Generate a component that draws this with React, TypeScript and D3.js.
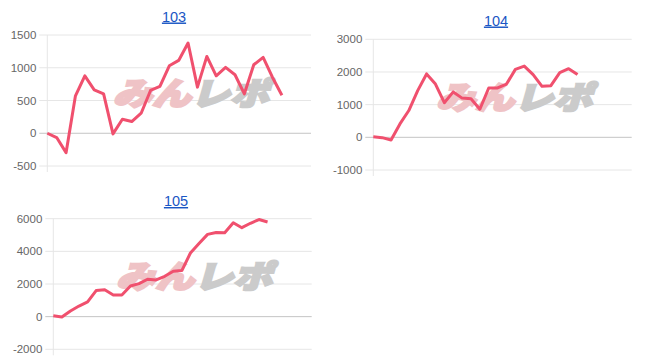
import * as d3 from 'd3'

// values, one point per game
const titles = ['103', '104', '105']
const values103 = [0, -66, -296, 571, 877, 663, 602, -10, 214, 179, 306, 653, 714, 1030, 1112, 1377, 704, 1173, 877, 1005, 893, 602, 1046, 1158, 852, 581]
const values104 = [20, -10, -80, 410, 820, 1430, 1940, 1630, 1060, 1390, 1200, 1180, 860, 1510, 1510, 1630, 2080, 2180, 1920, 1560, 1580, 1980, 2100, 1920]
const values105 = [60, -20, 350, 650, 900, 1600, 1650, 1330, 1330, 1880, 2020, 2290, 2250, 2470, 2780, 2820, 3900, 4480, 5040, 5160, 5140, 5750, 5450, 5720, 5950, 5800]
const ticks103 = [-500, 0, 500, 1000, 1500]
const ticks104 = [-1000, 0, 1000, 2000, 3000]
const ticks105 = [-2000, 0, 2000, 4000, 6000]

const lineColour = '#f0506e'
const labelFont = '"Liberation Sans", Arial, sans-serif'

interface PanelProps {
    title: string
    values: number[]
    ticks: number[]
    left: number
    right: number
    top: number
    bottom: number
    xMax: number
    titleX: number
    titleY: number
}

const Panel = (props: PanelProps) => {
    const { values, ticks, left, right, top, bottom } = props

    const x = d3.scaleLinear().domain([0, props.xMax]).range([left, right])
    const y = d3
        .scaleLinear()
        .domain([ticks[0], ticks[ticks.length - 1]])
        .range([bottom, top])

    const line = d3
        .line<number>()
        .x((d, i) => x(i))
        .y(d => y(d))

    // watermark sits at the same relative spot in every panel
    const wmX = left + (right - left) * 0.545
    const wmY = top + (bottom - top) * 0.44 + 12

    return (
        <g>
            <text
                x={props.titleX}
                y={props.titleY}
                textAnchor="middle"
                fontFamily={labelFont}
                fontSize={14.5}
                fill="#1a56c4"
                textDecoration="underline"
            >
                {props.title}
            </text>
            <line x1={left} x2={left} y1={top} y2={bottom + 6} stroke="#e6e6e6" />
            {ticks.map(t => (
                <g key={t}>
                    <line
                        x1={left - 8}
                        x2={right}
                        y1={y(t)}
                        y2={y(t)}
                        stroke={t === 0 ? '#c4c4c4' : '#e6e6e6'}
                    />
                    <text
                        x={left - 11}
                        y={y(t)}
                        dy="0.35em"
                        textAnchor="end"
                        fontFamily={labelFont}
                        fontSize={11.5}
                        fill="#666"
                    >
                        {t}
                    </text>
                </g>
            ))}
            <g transform={`translate(${wmX},${wmY}) skewX(-16) scale(1,0.95)`}>
                <text
                    x={0}
                    y={0}
                    textAnchor="middle"
                    fontFamily='"Noto Sans CJK JP", sans-serif'
                    fontWeight={900}
                    fontSize={33}
                    textLength={156}
                    lengthAdjust="spacingAndGlyphs"
                    strokeWidth={2.5}
                    strokeLinejoin="miter"
                >
                    <tspan fill="#efc3c6" stroke="#efc3c6">みん</tspan>
                    <tspan fill="#cbcbcb" stroke="#cbcbcb">レポ</tspan>
                </text>
            </g>
            <path
                d={line(values) ?? ''}
                fill="none"
                stroke={lineColour}
                strokeWidth={3}
                strokeLinejoin="round"
            />
        </g>
    )
}

const App = () => {
    return (
        <svg
            width={646}
            height={364}
            style={{ position: 'absolute', left: 0, top: 0, background: '#fff' }}
        >
            <Panel
                title={titles[0]}
                values={values103}
                ticks={ticks103}
                left={47.3}
                right={311}
                top={35}
                bottom={166}
                xMax={28.1}
                titleX={174}
                titleY={21.5}
            />
            <Panel
                title={titles[1]}
                values={values104}
                ticks={ticks104}
                left={373.3}
                right={631.7}
                top={39.3}
                bottom={170}
                xMax={29.1}
                titleX={496}
                titleY={25.5}
            />
            <Panel
                title={titles[2]}
                values={values105}
                ticks={ticks105}
                left={53.3}
                right={311.7}
                top={218.7}
                bottom={349.3}
                xMax={30.15}
                titleX={176}
                titleY={206}
            />
        </svg>
    )
}

export default App
